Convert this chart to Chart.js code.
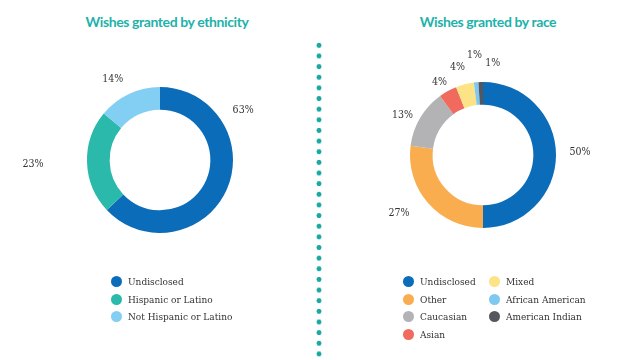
<!DOCTYPE html>
<html>
<head>
<meta charset="utf-8">
<script src="https://cdn.jsdelivr.net/npm/chart.js@4"></script>
<style>
    html, body { margin: 0; padding: 0; background: #fff; }
    #page { position: relative; width: 640px; height: 360px; overflow: hidden; }
    .title {
        position: absolute; top: 13px; width: 300px; text-align: center;
        font-family: Lato, sans-serif; font-weight: bold; font-size: 14px; letter-spacing: -0.4px; color: #1db2aa;
    }
    canvas { position: absolute; top: 40px; }
    .divider {
        position: absolute; left: 315px; top: 40px; width: 8px; height: 318px;
        background-image: radial-gradient(circle, #1aa9a1 2.2px, rgba(255,255,255,0) 2.8px);
        background-size: 8px 10.65px;
        background-repeat: repeat-y;
    }
    .legend {
        position: absolute; top: 273px; display: flex;
        font-family: "DejaVu Serif Condensed", "Liberation Serif", serif; font-size: 10px; color: #333;
    }
    .legend .col { display: flex; flex-direction: column; width: 86px; }
    .legend .item { display: flex; align-items: center; height: 17.5px; white-space: nowrap; }
    .legend .dot { width: 11px; height: 11px; border-radius: 50%; margin-right: 6px; flex: none; }
</style>
</head>
<body>
<div id="page">
    <div class="title" style="left: 17px;">Wishes granted by ethnicity</div>
    <div class="title" style="left: 338px;">Wishes granted by race</div>
    <canvas id="ethnicityChart" width="320" height="240" style="left: 0;"></canvas>
    <canvas id="raceChart" width="320" height="240" style="left: 320px;"></canvas>
    <div class="divider"></div>
    <div class="legend" id="ethnicityLegend" style="left: 111px;"></div>
    <div class="legend" id="raceLegend" style="left: 403px;"></div>
</div>
<script>
// Ethnicity data
const ethnicityLabels = ['Undisclosed', 'Hispanic or Latino', 'Not Hispanic or Latino'];
const ethnicityValues = [63, 23, 14];
const ethnicityColors = ['#0b6cb9', '#2bb9ab', '#82cff3'];

// Race data
const raceLabels = ['Undisclosed', 'Other', 'Caucasian', 'Asian', 'Mixed', 'African American', 'American Indian'];
const raceValues = [50, 27, 13, 4, 4, 1, 1];
const raceColors = ['#0b6cb9', '#f9ad4f', '#b3b3b5', '#f06a5d', '#fbe386', '#7ec9f1', '#55575d'];

// Percent labels outside the ring, placed along each arc
const outsideLabels = {
    id: 'outsideLabels',
    afterDatasetsDraw(chart, args, opts) {
        const ctx = chart.ctx;
        const meta = chart.getDatasetMeta(0);
        const values = chart.data.datasets[0].data;
        ctx.save();
        ctx.font = opts.font;
        ctx.fillStyle = opts.color;
        ctx.textAlign = 'center';
        ctx.textBaseline = 'middle';
        meta.data.forEach((arc, i) => {
            const p = arc.getProps(['x', 'y', 'startAngle', 'endAngle', 'outerRadius'], true);
            const at = opts.at[i] !== undefined ? opts.at[i] : 0.5;
            const angle = p.startAngle + (p.endAngle - p.startAngle) * at;
            const r = p.outerRadius + (opts.extra[i] || 0);
            ctx.fillText(values[i] + '%', p.x + Math.cos(angle) * r, p.y + Math.sin(angle) * r);
        });
        ctx.restore();
    }
};

function createDonut(canvasId, labels, values, colors, padding, labelOpts) {
    const ctx = document.getElementById(canvasId).getContext('2d');
    return new Chart(ctx, {
        type: 'doughnut',
        data: {
            labels: labels,
            datasets: [{
                data: values,
                backgroundColor: colors,
                borderWidth: 0
            }]
        },
        options: {
            responsive: false,
            animation: false,
            cutout: '69%',
            layout: { padding: padding },
            plugins: {
                legend: { display: false },
                tooltip: { enabled: false },
                outsideLabels: Object.assign({
                    font: '10.5px "DejaVu Serif Condensed", "Liberation Serif", serif',
                    color: '#333'
                }, labelOpts)
            }
        },
        plugins: [outsideLabels]
    });
}

function buildLegend(containerId, labels, colors, perColumn) {
    const container = document.getElementById(containerId);
    let col;
    labels.forEach((label, i) => {
        if (i % perColumn === 0) {
            col = document.createElement('div');
            col.className = 'col';
            container.appendChild(col);
        }
        const item = document.createElement('div');
        item.className = 'item';
        item.innerHTML = `<span class="dot" style="background:${colors[i]}"></span>${label}`;
        col.appendChild(item);
    });
}

createDonut('ethnicityChart', ethnicityLabels, ethnicityValues, ethnicityColors,
    { top: 47, bottom: 47, left: 87, right: 87 },
    { at: [0.26, 0.5, 0.4], extra: [24, 54, 21] });

createDonut('raceChart', raceLabels, raceValues, raceColors,
    { top: 42, bottom: 52, left: 90, right: 84 },
    { at: [0.49, 0.57, 0.41, 0.36, 0.37, 0.64, 2.67], extra: [24, 29, 17, 12, 18, 27, 19] });

buildLegend('ethnicityLegend', ethnicityLabels, ethnicityColors, 3);
buildLegend('raceLegend', raceLabels, raceColors, 4);
</script>
</body>
</html>
